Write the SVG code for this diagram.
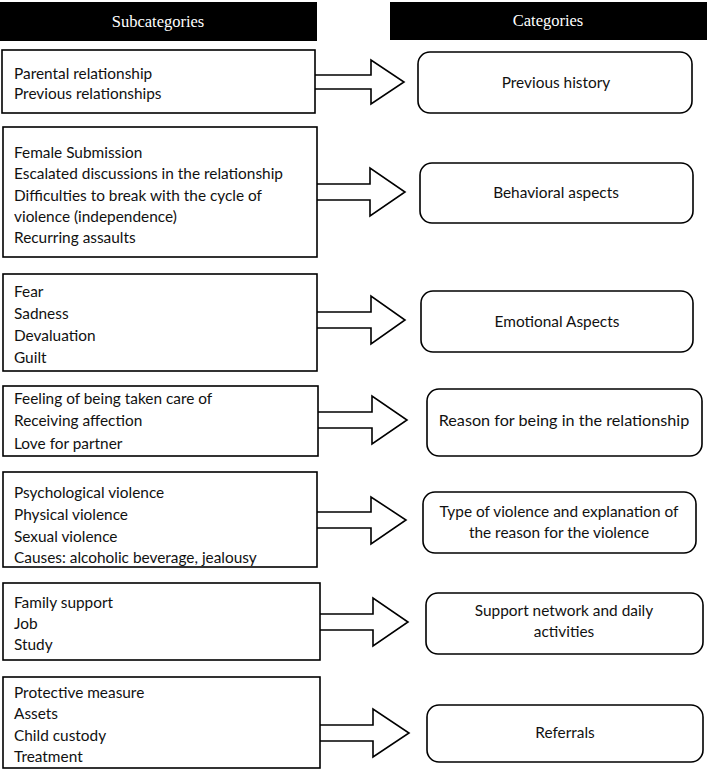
<svg xmlns="http://www.w3.org/2000/svg" width="709" height="771" viewBox="0 0 709 771">
<style>
.hdr{fill:#000}
.htx{font-family:"Liberation Serif",serif;font-size:16.5px;fill:#fff;text-anchor:middle}
.sub{fill:#fff;stroke:#000;stroke-width:1.6}
.cat{fill:#fff;stroke:#000;stroke-width:1.6}
.arr{fill:#fff;stroke:#000;stroke-width:1.6;stroke-linejoin:miter}
.t{font-family:Lato,"Open Sans",sans-serif;font-size:15.4px;fill:#111}
.c{font-family:Lato,"Open Sans",sans-serif;font-size:15.4px;fill:#111;text-anchor:middle}
.big{font-size:16.2px}
</style>
<rect width="709" height="771" fill="#fff"/>
<g id="header-sub"><rect class="hdr" x="0" y="2" width="317" height="39"/><text class="htx" x="158" y="27">Subcategories</text></g>
<g id="header-cat"><rect class="hdr" x="390" y="2" width="317" height="38"/><text class="htx" x="548" y="26">Categories</text></g>

<g id="connectors">
<path class="arr" d="M315,75 H371 V60 L404,82 L371,104 V89 H315"/>
<path class="arr" d="M317,184 H370 V168 L405,192 L370,216 V200 H317"/>
<path class="arr" d="M317,312 H371 V296 L405,320 L371,344 V328 H317"/>
<path class="arr" d="M318,412 H372 V396 L407,420 L372,444 V428 H318"/>
<path class="arr" d="M317,512 H371 V497 L406,520 L371,544 V528 H317"/>
<path class="arr" d="M320,614 H373 V598 L408,622 L373,646 V630 H320"/>
<path class="arr" d="M320,725 H373 V709 L409,733 L373,757 V741 H320"/>
</g>

<g id="sub1"><rect class="sub" x="2" y="50" width="313" height="63"/>
<text class="t" x="14" y="79">Parental relationship</text><text class="t" x="14" y="99">Previous relationships</text></g>
<g id="sub2"><rect class="sub" x="3" y="127" width="314" height="130"/>
<text class="t" x="14" y="158">Female Submission</text><text class="t" x="14" y="179">Escalated discussions in the relationship</text><text class="t" x="14" y="201">Difficulties to break with the cycle of</text><text class="t" x="14" y="222">violence (independence)</text><text class="t" x="14" y="243">Recurring assaults</text></g>
<g id="sub3"><rect class="sub" x="3" y="274" width="314" height="97"/>
<text class="t" x="14" y="297">Fear</text><text class="t" x="14" y="319">Sadness</text><text class="t" x="14" y="341">Devaluation</text><text class="t" x="14" y="363">Guilt</text></g>
<g id="sub4"><rect class="sub" x="3" y="386" width="315" height="70"/>
<text class="t" x="14" y="404">Feeling of being taken care of</text><text class="t" x="14" y="426">Receiving affection</text><text class="t" x="14" y="449">Love for partner</text></g>
<g id="sub5"><rect class="sub" x="3" y="472" width="314" height="95"/>
<text class="t" x="14" y="498">Psychological violence</text><text class="t" x="14" y="520">Physical violence</text><text class="t" x="14" y="542">Sexual violence</text><text class="t" x="14" y="563">Causes: alcoholic beverage, jealousy</text></g>
<g id="sub6"><rect class="sub" x="3" y="583" width="317" height="77"/>
<text class="t" x="14" y="608">Family support</text><text class="t" x="14" y="629">Job</text><text class="t" x="14" y="650">Study</text></g>
<g id="sub7"><rect class="sub" x="3" y="677" width="317" height="91"/>
<text class="t" x="14" y="698">Protective measure</text><text class="t" x="14" y="719">Assets</text><text class="t" x="14" y="741">Child custody</text><text class="t" x="14" y="762">Treatment</text></g>

<g id="cat1"><rect class="cat" x="418" y="52" width="274" height="61" rx="12"/><text class="c" x="556" y="88">Previous history</text></g>
<g id="cat2"><rect class="cat" x="420" y="163" width="273" height="60" rx="12"/><text class="c" x="556" y="198">Behavioral aspects</text></g>
<g id="cat3"><rect class="cat" x="421" y="291" width="272" height="61" rx="12"/><text class="c" x="557" y="327">Emotional Aspects</text></g>
<g id="cat4"><rect class="cat" x="427" y="389" width="275" height="67" rx="12"/><text class="c big" x="564" y="426">Reason for being in the relationship</text></g>
<g id="cat5"><rect class="cat" x="423" y="492" width="273" height="61" rx="12"/><text class="c" x="559" y="517">Type of violence and explanation of</text><text class="c" x="559" y="538">the reason for the violence</text></g>
<g id="cat6"><rect class="cat" x="426" y="593" width="277" height="61" rx="12"/><text class="c" x="564" y="616">Support network and daily</text><text class="c" x="564" y="637">activities</text></g>
<g id="cat7"><rect class="cat" x="427" y="705" width="276" height="57" rx="12"/><text class="c" x="565" y="738">Referrals</text></g>
</svg>
